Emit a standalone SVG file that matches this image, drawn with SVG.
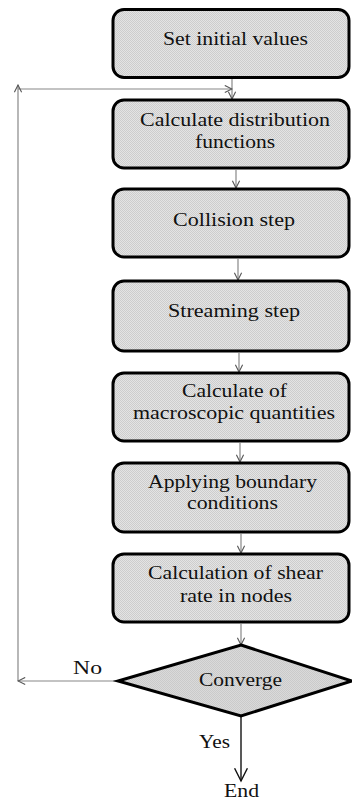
<svg xmlns="http://www.w3.org/2000/svg" width="352" height="801" viewBox="0 0 352 801">
<defs>
<pattern id="chk" width="2" height="2" patternUnits="userSpaceOnUse">
<rect width="2" height="2" fill="#e4e4e4"/>
<rect width="1" height="1" fill="#cdcdcd"/>
<rect x="1" y="1" width="1" height="1" fill="#cdcdcd"/>
</pattern>
<pattern id="chk2" width="2" height="2" patternUnits="userSpaceOnUse">
<rect width="2" height="2" fill="#dadada"/>
<rect width="1" height="1" fill="#cacaca"/>
<rect x="1" y="1" width="1" height="1" fill="#cacaca"/>
</pattern>
<marker id="ah" viewBox="0 0 10 10" refX="9" refY="5" markerWidth="9" markerHeight="9" markerUnits="userSpaceOnUse" orient="auto">
<path d="M1,1 L9,5 L1,9" fill="none" stroke="#555" stroke-width="1.2"/>
</marker>
<marker id="ahb" viewBox="0 0 10 10" refX="9" refY="5" markerWidth="16" markerHeight="16" markerUnits="userSpaceOnUse" orient="auto">
<path d="M1,1 L9,5 L1,9" fill="none" stroke="#111" stroke-width="0.9"/>
</marker>
</defs>
<style>
.box{fill:url(#chk);stroke:#000;stroke-width:3}
.dia{fill:url(#chk2);stroke:#000;stroke-width:3;stroke-linejoin:miter}
.t{font-family:"Liberation Serif","Times New Roman",serif;font-size:19px;fill:#111;text-anchor:middle}
.c{fill:none;stroke:#888;stroke-width:1.2}
.cb{fill:none;stroke:#222;stroke-width:1.5}
</style>
<g id="connectors">
<line class="c" x1="232" y1="79" x2="232" y2="99" marker-end="url(#ah)"/>
<line class="c" x1="18" y1="89" x2="232" y2="89" marker-end="url(#ah)"/>
<line class="c" x1="18" y1="681" x2="18" y2="85" marker-end="url(#ah)"/>
<line class="c" x1="118" y1="681" x2="18" y2="681" marker-end="url(#ah)"/>
<line class="c" x1="236" y1="170" x2="236" y2="188" marker-end="url(#ah)"/>
<line class="c" x1="238" y1="259" x2="238" y2="280" marker-end="url(#ah)"/>
<line class="c" x1="239" y1="353" x2="239" y2="372" marker-end="url(#ah)"/>
<line class="c" x1="240" y1="443" x2="240" y2="462" marker-end="url(#ah)"/>
<line class="c" x1="241" y1="534" x2="241" y2="553" marker-end="url(#ah)"/>
<line class="c" x1="241" y1="624" x2="241" y2="645" marker-end="url(#ah)"/>
<line class="cb" x1="241" y1="716" x2="241" y2="781" marker-end="url(#ahb)"/>
<text class="t" x="87.5" y="674" textLength="29" lengthAdjust="spacingAndGlyphs">No</text>
<text class="t" x="214.5" y="748" textLength="31" lengthAdjust="spacingAndGlyphs">Yes</text>
<text class="t" x="241.5" y="797" textLength="35" lengthAdjust="spacingAndGlyphs">End</text>
</g>
<g id="n1">
<rect class="box" x="113" y="9.5" width="236" height="68" rx="11"/>
<text class="t" x="235.5" y="45" textLength="145" lengthAdjust="spacingAndGlyphs">Set initial values</text>
</g>
<g id="n2">
<rect class="box" x="113" y="100" width="236" height="68" rx="11"/>
<text class="t" x="235" y="126" textLength="190" lengthAdjust="spacingAndGlyphs">Calculate distribution</text>
<text class="t" x="235" y="148" textLength="80" lengthAdjust="spacingAndGlyphs">functions</text>
</g>
<g id="n3">
<rect class="box" x="113" y="189" width="236" height="68" rx="11"/>
<text class="t" x="234" y="226" textLength="122" lengthAdjust="spacingAndGlyphs">Collision step</text>
</g>
<g id="n4">
<rect class="box" x="113" y="281" width="236" height="70" rx="11"/>
<text class="t" x="234" y="317" textLength="132" lengthAdjust="spacingAndGlyphs">Streaming step</text>
</g>
<g id="n5">
<rect class="box" x="113" y="373" width="236" height="68" rx="11"/>
<text class="t" x="234.5" y="397" textLength="105" lengthAdjust="spacingAndGlyphs">Calculate of</text>
<text class="t" x="234" y="419" textLength="202" lengthAdjust="spacingAndGlyphs">macroscopic quantities</text>
</g>
<g id="n6">
<rect class="box" x="113" y="463" width="236" height="69" rx="11"/>
<text class="t" x="232.5" y="488" textLength="169" lengthAdjust="spacingAndGlyphs">Applying boundary</text>
<text class="t" x="232.5" y="509" textLength="91" lengthAdjust="spacingAndGlyphs">conditions</text>
</g>
<g id="n7">
<rect class="box" x="113" y="554" width="236" height="68" rx="11"/>
<text class="t" x="235.5" y="579" textLength="175" lengthAdjust="spacingAndGlyphs">Calculation of shear</text>
<text class="t" x="236" y="602" textLength="112" lengthAdjust="spacingAndGlyphs">rate in nodes</text>
</g>
<g id="n8">
<polygon class="dia" points="241,645 352,681 241,716 118,681"/>
<text class="t" x="240.5" y="686" textLength="83" lengthAdjust="spacingAndGlyphs">Converge</text>
</g>
</svg>
